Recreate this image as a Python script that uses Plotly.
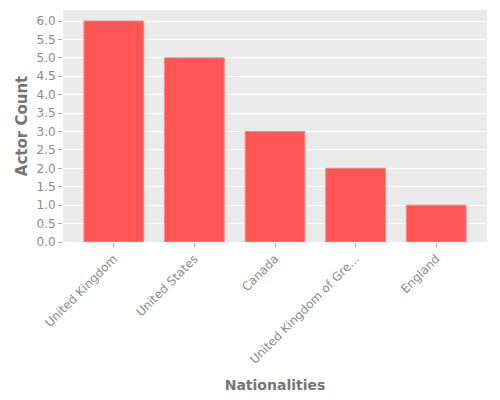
import plotly.graph_objects as go

categories = ["United Kingdom", "United States", "Canada", "United Kingdom of Gre...", "England"]
counts = [6, 5, 3, 2, 1]

fig = go.Figure(go.Bar(
    x=categories, y=counts,
    marker=dict(color="#FF5555", line=dict(color="#FF8080", width=1)),
    width=0.74,
))

title_color = "#757575"
tick_color = "#8a8a8a"
fig.update_layout(
    width=500, height=400,
    margin=dict(l=55, r=21, t=2, b=166),
    paper_bgcolor="white",
    plot_bgcolor="#EAEAEA",
    font=dict(family="DejaVu Sans", color=tick_color, size=12),
    showlegend=False,
    xaxis=dict(
        range=[-0.63, 4.63],
        tickangle=-45,
        ticks="outside", ticklen=4, tickcolor="#aaaaaa",
        showgrid=False, zeroline=False, automargin=False,
        title=dict(text="<b>Nationalities</b>", font=dict(size=14, color=title_color), standoff=14),
        tickfont=dict(size=12, color=tick_color),
    ),
    yaxis=dict(
        range=[0, 6.3],
        dtick=0.5, tickformat=".1f",
        ticks="outside", ticklen=4, tickcolor="#aaaaaa",
        showgrid=True, gridcolor="white", gridwidth=1,
        zeroline=False, automargin=False,
        title=dict(text="<b>Actor Count</b>", font=dict(size=15, color=title_color), standoff=5),
        tickfont=dict(size=12, color=tick_color),
    ),
)

fig.write_html("out.html")
